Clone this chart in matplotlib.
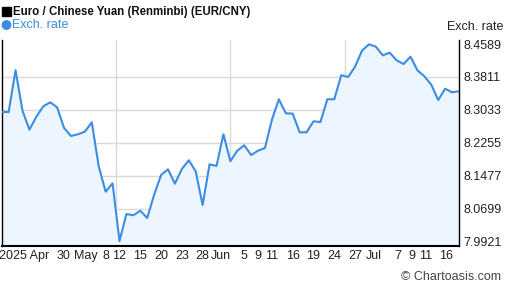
import matplotlib
matplotlib.use("Agg")
import matplotlib.pyplot as plt
from matplotlib.patches import Rectangle, Ellipse

plt.rcParams['font.family'] = ['Liberation Sans', 'DejaVu Sans']

# --- data: EUR/CNY daily rate, 2025-04-17 .. 2025-07-18 ---
rates = [
    8.2983, 8.2983, 8.3970, 8.3014, 8.2565, 8.2872, 8.3118, 8.3213, 8.3094, 8.2605,
    8.2416, 8.2456, 8.2518, 8.2740, 8.1699, 8.1098, 8.1297, 7.9930, 8.0571, 8.0540,
    8.0649, 8.0476, 8.1027, 8.1493, 8.1628, 8.1288, 8.1635, 8.1841, 8.1581, 8.0784,
    8.1746, 8.1706, 8.2456, 8.1820, 8.2068, 8.2196, 8.1966, 8.2068, 8.2132, 8.2801,
    8.3284, 8.2953, 8.2943, 8.2503, 8.2503, 8.2763, 8.2747, 8.3284, 8.3284, 8.3851,
    8.3811, 8.4055, 8.4433, 8.4584, 8.4528, 8.4324, 8.4386, 8.4206, 8.4118, 8.4291,
    8.3969, 8.3827, 8.3629, 8.3267, 8.3534, 8.3449, 8.3473,
]
y_ticks = [7.9921, 8.0699, 8.1477, 8.2255, 8.3033, 8.3811, 8.4589]
x_tick_pos = [3.3, 8.9, 12.2, 15, 17, 20, 23, 26, 29, 31.6, 35, 37, 39, 42, 45, 48, 51,
              53.7, 57.2, 59.2, 61.2, 64.2]
x_tick_labels = ['2025 Apr', '30', 'May', '8', '12', '15', '20', '23', '28', 'Jun', '5',
                 '9', '11', '16', '19', '24', '27', 'Jul', '7', '9', '11', '16']

line_color = '#3b8de4'
fill_color = '#edf6ff'
grid_color = '#d9d9d9'

W, H = 507, 288
fig = plt.figure(figsize=(W / 100, H / 100), dpi=100)
ax = fig.add_axes([1.7 / W, 1 - 246 / H, (459 - 1.7) / W, (246 - 40) / H])

x = list(range(len(rates)))
ymin, ymax = 7.9814, 8.4686
ax.fill_between(x, rates, ymin, color=fill_color, zorder=1)
ax.plot(x, rates, color=line_color, lw=1.5, zorder=3, solid_joinstyle='round')

ax.set_xlim(0, len(rates) - 1)
ax.set_ylim(ymin, ymax)

# grid: interior horizontal ticks, vertical lines at quarters
for v in y_ticks[1:-1]:
    ax.axhline(v, color=grid_color, lw=1, zorder=0)
for k in (1, 2, 3):
    ax.axvline((len(rates) - 1) * k / 4, color=grid_color, lw=1, zorder=0)

ax.yaxis.tick_right()
ax.set_yticks(y_ticks)
ax.set_yticklabels([f'{v:.4f}' for v in y_ticks])
ax.set_xticks(x_tick_pos)
ax.set_xticklabels(x_tick_labels)
ax.tick_params(axis='both', length=0, labelsize=9, colors='#222222')
ax.tick_params(axis='y', pad=3)
ax.tick_params(axis='x', pad=3)

ax.spines['top'].set_visible(False)
for s in ('left', 'right'):
    ax.spines[s].set_color('black')
    ax.spines[s].set_linewidth(1)
ax.spines['bottom'].set_color('black')
ax.spines['bottom'].set_linewidth(1.5)

# header
fig.patches.append(Rectangle((2 / W, 1 - 16 / H), 9 / W, 9 / H, color='black',
                             transform=fig.transFigure, figure=fig))
fig.text(13 / W, 1 - 11.5 / H, 'Euro / Chinese Yuan (Renminbi) (EUR/CNY)',
         fontsize=8.3, fontweight='bold', color='#111111', va='center', ha='left')
fig.patches.append(Ellipse((6.5 / W, 1 - 25 / H), 8.5 / W, 8.5 / H, color=line_color,
                           transform=fig.transFigure, figure=fig))
fig.text(12 / W, 1 - 25 / H, 'Exch. rate', fontsize=9, color=line_color,
         va='center', ha='left')
fig.text(503 / W, 1 - 27 / H, 'Exch. rate', fontsize=9, color='#222222',
         va='center', ha='right')
fig.text(501 / W, 1 - 277 / H, '\u00a9 Chartoasis.com', fontsize=9, color='#444444',
         va='center', ha='right')

fig.savefig('out.png', dpi=100)
